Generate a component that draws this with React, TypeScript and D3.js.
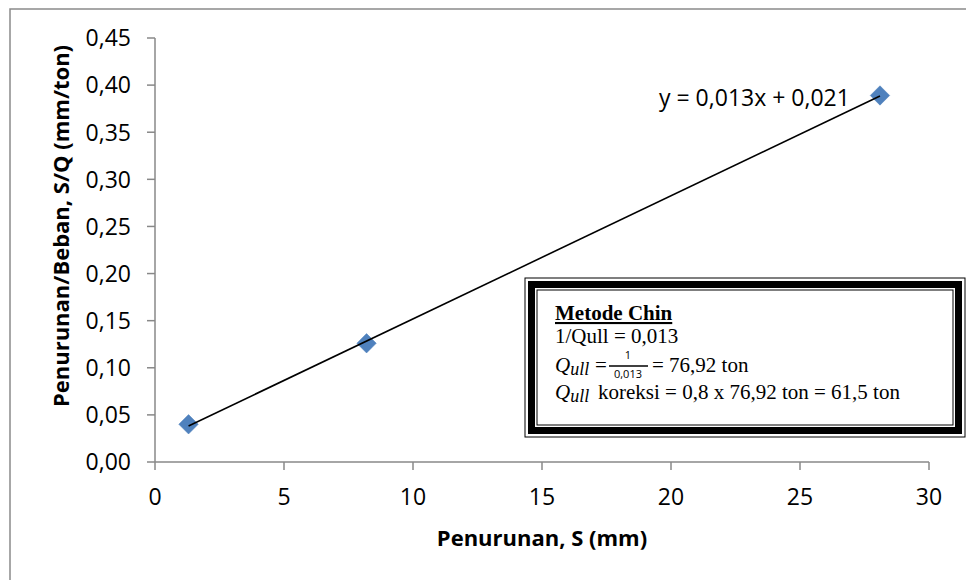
import React from "react";
import * as d3 from "d3";

// ---- data ----
const settlement = [1.3, 8.2, 28.1]; // S (mm)
const ratio = [0.04, 0.126, 0.389]; // S/Q (mm/ton)
const xTicks = [0, 5, 10, 15, 20, 25, 30];
const yTicks = [0, 0.05, 0.1, 0.15, 0.2, 0.25, 0.3, 0.35, 0.4, 0.45];
const xTitle = "Penurunan, S (mm)";
const yTitle = "Penurunan/Beban, S/Q (mm/ton)";
const equationLabel = "y = 0,013x + 0,021";
const boxTitle = "Metode Chin";
const boxLine1 = "1/Qull = 0,013";
const fracNum = "1";
const fracDen = "0,013";
const boxLine2Rest = "= 76,92 ton";
const boxLine3Rest = "koreksi = 0,8 x 76,92 ton = 61,5 ton";

const W = 966;
const H = 580;
const M = { left: 155, right: 929, top: 38, bottom: 462 };

const sans = "'Open Sans', 'Noto Sans', sans-serif";
const serif = "'Liberation Serif', 'Times New Roman', serif";

function fmtY(v: number) {
  return d3.format(".2f")(v).replace(".", ",");
}

function QullLabel({ x, y }: { x: number; y: number }) {
  return (
    <text x={x} y={y} fontFamily={serif} fontSize={21} fontStyle="italic">
      Q
      <tspan fontSize={18} dy={3}>ull</tspan>
    </text>
  );
}

export default function App() {
  const x = d3.scaleLinear().domain([0, 30]).range([M.left, M.right]);
  const y = d3.scaleLinear().domain([0, 0.45]).range([M.bottom, M.top]);

  // least-squares trendline
  const n = settlement.length;
  const mx = d3.mean(settlement)!;
  const my = d3.mean(ratio)!;
  let sxy = 0,
    sxx = 0;
  for (let i = 0; i < n; i++) {
    sxy += (settlement[i] - mx) * (ratio[i] - my);
    sxx += (settlement[i] - mx) ** 2;
  }
  const slope = sxy / sxx;
  const icpt = my - slope * mx;
  const x0 = d3.min(settlement)!;
  const x1 = d3.max(settlement)!;
  const line = d3.line<number>().x((d) => x(d)).y((d) => y(slope * d + icpt));

  const diamond = d3.symbol().type(d3.symbolDiamond2).size(240)();

  const axisColor = "#888888";

  // box
  const bx = 525,
    by = 278,
    bw = 440,
    bh = 159;

  return (
    <svg
      width={W}
      height={H}
      style={{ position: "absolute", left: 0, top: 0, background: "#fff" }}
    >
      <rect x={0} y={0} width={W} height={H} fill="#fff" />
      {/* chart border */}
      <rect x={10} y={9} width={W + 20} height={H + 20} fill="none" stroke="#8a8a8a" strokeWidth={1.5} />

      {/* axes */}
      <line x1={M.left} x2={M.left} y1={M.top} y2={M.bottom} stroke={axisColor} strokeWidth={1.5} />
      <line x1={M.left} x2={M.right} y1={M.bottom} y2={M.bottom} stroke={axisColor} strokeWidth={1.5} />
      {yTicks.map((t) => (
        <g key={"y" + t}>
          <line x1={M.left - 8} x2={M.left} y1={y(t)} y2={y(t)} stroke={axisColor} strokeWidth={1.5} />
          <text x={131} y={y(t)} dy="0.36em" textAnchor="end" fontFamily={sans} fontSize={23} fill="#000">
            {fmtY(t)}
          </text>
        </g>
      ))}
      {xTicks.map((t) => (
        <g key={"x" + t}>
          <line x1={x(t)} x2={x(t)} y1={M.bottom} y2={M.bottom + 8} stroke={axisColor} strokeWidth={1.5} />
          <text x={x(t)} y={505} textAnchor="middle" fontFamily={sans} fontSize={23} fill="#000">
            {t}
          </text>
        </g>
      ))}

      {/* axis titles */}
      <text x={(M.left + M.right) / 2} y={546} textAnchor="middle" fontFamily={sans} fontWeight="bold" fontSize={22}>
        {xTitle}
      </text>
      <text
        transform={`translate(69, 226) rotate(-90)`}
        textAnchor="middle"
        fontFamily={sans}
        fontWeight="bold"
        fontSize={22}
      >
        {yTitle}
      </text>

      {/* markers */}
      {settlement.map((s, i) => (
        <path key={i} d={diamond!} transform={`translate(${x(s)},${y(ratio[i])})`} fill="#4F81BD" stroke="#4A7EBB" strokeWidth={0.5} />
      ))}

      {/* trendline */}
      <path d={line([x0, x1])!} stroke="#000" strokeWidth={1.6} fill="none" />

      {/* equation */}
      <text x={659} y={106} fontFamily={sans} fontSize={23} fill="#000">
        {equationLabel}
      </text>

      {/* annotation box */}
      <rect x={bx} y={by} width={bw} height={bh} fill="#fff" stroke="#000" strokeWidth={1} />
      <rect x={bx + 6.5} y={by + 6.5} width={bw - 13} height={bh - 13} fill="none" stroke="#000" strokeWidth={7} />
      <rect x={bx + 12} y={by + 12} width={bw - 24} height={bh - 24} fill="#fff" stroke="#000" strokeWidth={1} />

      <text x={555} y={320} fontFamily={serif} fontSize={21} fontWeight="bold" textDecoration="underline">
        {boxTitle}
      </text>
      <text x={555} y={343} fontFamily={serif} fontSize={21}>
        {boxLine1}
      </text>
      <QullLabel x={555} y={372} />
      <text x={595} y={372} fontFamily={serif} fontSize={21}>=</text>
      <text x={628} y={359} textAnchor="middle" fontFamily={sans} fontSize={11}>
        {fracNum}
      </text>
      <line x1={609} x2={648} y1={366} y2={366} stroke="#000" strokeWidth={1.3} />
      <text x={628} y={378} textAnchor="middle" fontFamily={sans} fontSize={11}>
        {fracDen}
      </text>
      <text x={652} y={372} fontFamily={serif} fontSize={21}>
        {boxLine2Rest}
      </text>
      <QullLabel x={555} y={399} />
      <text x={598} y={399} fontFamily={serif} fontSize={21}>
        {boxLine3Rest}
      </text>
    </svg>
  );
}
